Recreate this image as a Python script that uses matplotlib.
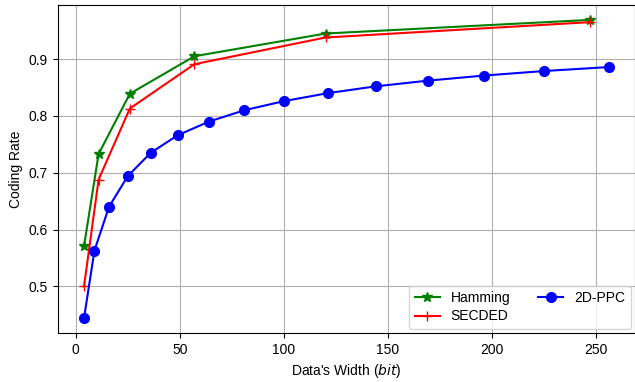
import matplotlib
matplotlib.use("Agg")
import matplotlib.pyplot as plt

plt.rcParams["font.family"] = ["Liberation Sans", "DejaVu Sans"]

# Hamming codes: data bits and coding rate
hamming_width = [4, 11, 26, 57, 120, 247]
hamming_rate = [0.571, 0.733, 0.839, 0.905, 0.945, 0.969]

# SECDED codes
secded_width = [4, 11, 26, 57, 120, 247]
secded_rate = [0.500, 0.688, 0.813, 0.891, 0.938, 0.965]

# 2D-PPC
ppc_width = [4, 9, 16, 25, 36, 49, 64, 81, 100, 121, 144, 169, 196, 225, 256]
ppc_rate = [0.444, 0.563, 0.640, 0.694, 0.735, 0.766, 0.790, 0.810, 0.826,
            0.840, 0.852, 0.862, 0.871, 0.879, 0.886]


def main():
    fig, ax = plt.subplots(figsize=(6.35, 3.82), dpi=100)

    ax.plot(hamming_width, hamming_rate, color="green", marker="*", markersize=7, label="Hamming")
    ax.plot(secded_width, secded_rate, color="red", marker="+", markersize=7, label="SECDED")
    ax.plot(ppc_width, ppc_rate, color="blue", marker="o", markersize=7, label="2D-PPC")

    ax.set_xlabel("Data's Width ($\\it{bit}$)")
    ax.set_ylabel("Coding Rate")
    ax.grid(True, color="#b0b0b0")
    ax.legend(loc="lower right", ncol=2, handlelength=1.8, labelspacing=0.3,
              borderaxespad=0.3)

    plt.subplots_adjust(left=0.091, right=1.0, top=0.987, bottom=0.128)
    plt.savefig("out.png")


if __name__ == "__main__":
    main()
